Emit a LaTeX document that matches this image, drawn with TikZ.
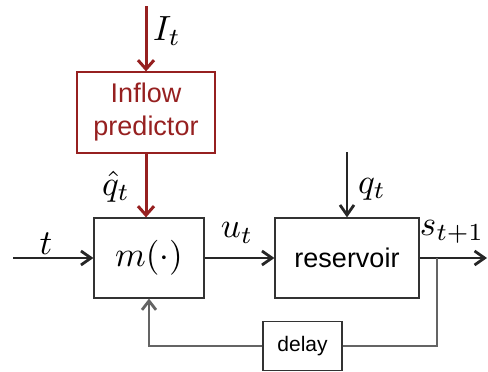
\documentclass[tikz,border=0pt]{standalone}
\usepackage{fontspec}
\setsansfont{Liberation Sans}
\usetikzlibrary{arrows.meta}
\definecolor{dred}{RGB}{150,32,32}
\definecolor{fbgray}{RGB}{100,100,100}
\newcommand{\bigmath}[1]{\scalebox{3.5}{$#1$}}
\tikzset{
  blk/.style={draw=black!80, line width=1.2pt, rectangle, inner sep=0pt},
  redblk/.style={draw=dred, line width=1.2pt, rectangle, inner sep=0pt, text=dred, align=center, font=\sffamily\fontsize{27}{33}\selectfont},
  mlabel/.style={inner sep=0pt, font=\normalsize},
  blkarrow/.style={draw=black!85, line width=1.3pt, -{Straight Barb[length=10pt,width=14pt,line width=2.8pt]}},
  redarrow/.style={draw=dred, line width=3pt, -{Straight Barb[length=9pt,width=16pt,line width=3pt]}},
  fbline/.style={draw=fbgray, line width=1.1pt},
  fbarrow/.style={draw=fbgray, line width=1.1pt, -{Straight Barb[length=9pt,width=14pt,line width=2.8pt]}},
}
\begin{document}
\begin{tikzpicture}[x=1pt,y=-1pt]
\useasboundingbox (0,0) rectangle (488,372);
% blocks
\node[redblk, minimum width=138pt, minimum height=81pt] (inflow) at (146,112.5) {Inflow\\predictor};
\node[blk, minimum width=110pt, minimum height=80pt, font=\normalsize] (m) at (149,258) {\bigmath{m(\cdot)}};
\node[blk, minimum width=144pt, minimum height=80pt, font=\sffamily\fontsize{27}{33}\selectfont] (res) at (347,258) {reservoir};
\node[blk, minimum width=79pt, minimum height=49pt, font=\sffamily\fontsize{21}{25}\selectfont] (delay) at (302.5,346) {delay};
% free ends
\coordinate (top) at (146,6);
\coordinate (tin) at (13,258);
\coordinate (qtop) at (347,152);
\coordinate (out) at (487,258);
\coordinate (branch) at (437,258);
% connectors
\draw[redarrow] (top) -- (inflow.north);
\draw[redarrow] (inflow.south) -- (inflow.south |- m.north);
\draw[blkarrow] (tin) -- (m.west);
\draw[blkarrow] (m.east) -- (res.west);
\draw[blkarrow] (qtop) -- (res.north);
\draw[blkarrow] (res.east) -- (out);
\draw[fbline] (branch) |- (delay.east);
\draw[fbarrow] (delay.west) -| (m.south);
% labels
\node[mlabel] (lI) at (167,31) {\bigmath{I_t}};
\node[mlabel] (lqh) at (116,187) {\bigmath{\hat{q}_t}};
\node[mlabel] (lt) at (46,244) {\bigmath{t}};
\node[mlabel] (lu) at (237,233) {\bigmath{u_t}};
\node[mlabel] (lq) at (372,189) {\bigmath{q_t}};
\node[mlabel] (ls) at (452,232) {\bigmath{s_{t+1}}};
\end{tikzpicture}
\end{document}
